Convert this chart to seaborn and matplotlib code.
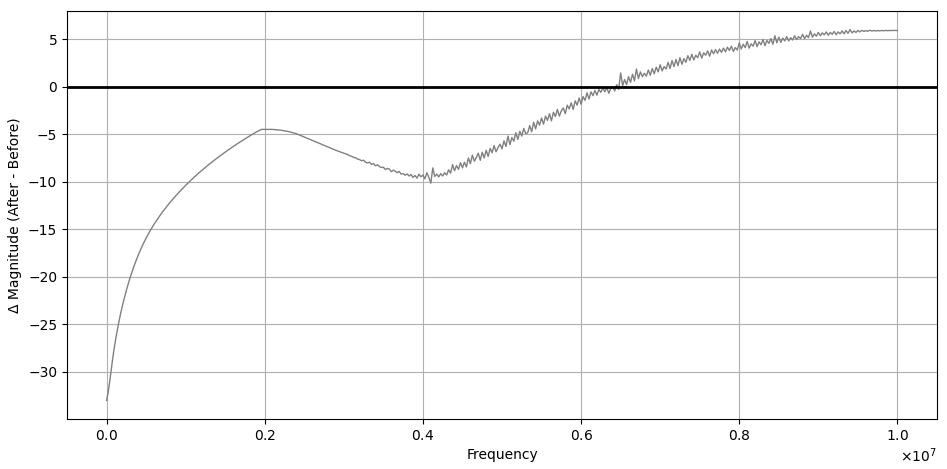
import numpy as np
import pandas as pd
import matplotlib
matplotlib.use('Agg')
import matplotlib.pyplot as plt
import seaborn as sns

# smooth low-frequency part (MHz, dB)
freq_low_mhz = [0.0, 0.02, 0.04, 0.06, 0.08, 0.10, 0.12, 0.15, 0.18, 0.21, 0.25, 0.30,
                0.35, 0.40, 0.45, 0.50, 0.55, 0.60, 0.70, 0.80, 0.90, 1.0, 1.1, 1.2,
                1.3, 1.4, 1.5, 1.6, 1.7, 1.8, 1.9, 1.96, 2.1, 2.2, 2.3, 2.4, 2.5, 2.6,
                2.7, 2.8, 2.9]
delta_low = [-33.0, -32.2, -31.0, -29.7, -28.46, -27.34, -26.34, -24.99, -23.79, -22.71,
             -21.43, -20.03, -18.81, -17.73, -16.78, -15.93, -15.17, -14.48, -13.26,
             -12.20, -11.25, -10.38, -9.58, -8.84, -8.15, -7.50, -6.89, -6.31, -5.76,
             -5.24, -4.74, -4.5, -4.5, -4.58, -4.72, -4.95, -5.3, -5.65, -6.0, -6.35, -6.7]

# noisy part, 3.000 .. 10.000 MHz in 0.025 MHz steps (one row per 0.1 MHz)
freq_high_mhz = [round(3.0 + 0.025 * i, 3) for i in range(281)]
delta_high = [
    -7.00, -7.08, -7.15, -7.27,
    -7.33, -7.45, -7.48, -7.62,
    -7.68, -7.80, -7.74, -7.95,
    -8.02, -7.95, -8.18, -8.10,
    -8.33, -8.22, -8.41, -8.50,
    -8.48, -8.72, -8.60, -8.66,
    -8.95, -8.78, -8.90, -9.05,
    -8.92, -9.20, -9.15, -9.32,
    -9.18, -9.40, -9.25, -9.55,
    -9.35, -9.62, -9.20, -9.48,
    -9.30, -9.70, -9.05, -9.55,
    -10.15, -8.55, -9.45, -9.20,
    -9.50, -9.15, -9.40, -9.05,
    -9.30, -8.75, -9.10, -8.20,
    -8.85, -8.30, -8.70, -8.00,
    -8.55, -7.95, -8.45, -7.50,
    -8.10, -7.20, -7.85, -7.45,
    -7.00, -7.75, -6.90, -7.50,
    -6.70, -7.35, -6.50, -6.95,
    -6.20, -6.85, -6.40, -6.05,
    -6.55, -5.70, -6.30, -5.20,
    -6.10, -5.35, -5.75, -4.85,
    -5.55, -4.70, -5.20, -4.40,
    -4.95, -4.85, -4.10, -4.75,
    -3.75, -4.45, -3.60, -4.05,
    -3.30, -3.95, -3.10, -3.55,
    -2.85, -3.60, -2.70, -3.15,
    -2.40, -3.10, -2.55, -2.25,
    -2.85, -1.95, -2.35, -1.70,
    -2.40, -1.50, -1.95, -1.20,
    -1.85, -1.05, -1.45, -0.65,
    -1.30, -0.55, -0.95, -0.40,
    -0.90, -0.30, -0.60, -0.15,
    -0.55, -0.10, -0.70, -0.20,
    -0.05, -0.45, 0.20, -0.30,
    1.45, 0.10, 0.75, 0.20,
    1.05, 0.45, 1.30, 0.60,
    1.85, 0.85, 1.55, 1.05,
    1.40, 1.10, 1.75, 1.20,
    1.90, 1.35, 2.05, 1.55,
    2.30, 1.65, 2.10, 1.85,
    2.55, 1.90, 2.75, 2.10,
    2.85, 2.20, 3.05, 2.35,
    2.95, 2.55, 3.25, 2.75,
    3.40, 2.80, 3.30, 3.05,
    3.65, 3.00, 3.55, 3.30,
    3.75, 3.20, 3.85, 3.45,
    3.90, 3.50, 3.95, 3.60,
    4.05, 3.65, 4.15, 3.80,
    4.25, 3.70, 4.10, 3.85,
    4.60, 3.95, 4.45, 4.10,
    4.75, 4.05, 4.50, 4.25,
    4.85, 4.20, 4.70, 4.40,
    4.95, 4.30, 4.85, 4.55,
    5.05, 4.45, 5.35, 4.60,
    5.20, 4.65, 5.10, 4.80,
    5.25, 4.80, 5.15, 4.90,
    5.35, 4.95, 5.25, 5.05,
    5.50, 5.05, 5.40, 5.15,
    5.85, 5.20, 5.55, 5.30,
    5.70, 5.35, 5.65, 5.45,
    5.75, 5.40, 5.70, 5.50,
    5.80, 5.45, 5.75, 5.55,
    5.85, 5.55, 5.90, 5.60,
    6.00, 5.65, 5.85, 5.70,
    5.90, 5.75, 5.92, 5.80,
    5.88, 5.82, 5.93, 5.84,
    5.90, 5.85, 5.89, 5.86,
    5.90, 5.87, 5.91, 5.88,
    5.90, 5.89, 5.91, 5.90,
    5.90,
]

df = pd.DataFrame({
    'freq': np.array(freq_low_mhz + freq_high_mhz) * 1e6,
    'delta': delta_low + delta_high,
})

fig, ax = plt.subplots(figsize=(9.47, 4.69), dpi=100)
sns.lineplot(data=df, x='freq', y='delta', color='gray', linewidth=1, ax=ax, sort=False)
ax.axhline(0, color='black', linewidth=2)
ax.grid(True)
ax.ticklabel_format(axis='x', style='sci', scilimits=(0, 0), useMathText=True)
ax.set_xlabel('Frequency')
ax.set_ylabel('Δ Magnitude (After - Before)')
fig.subplots_adjust(left=67 / 947, right=937 / 947, top=1 - 11 / 469, bottom=1 - 419 / 469)
fig.savefig('out.png', dpi=100)
